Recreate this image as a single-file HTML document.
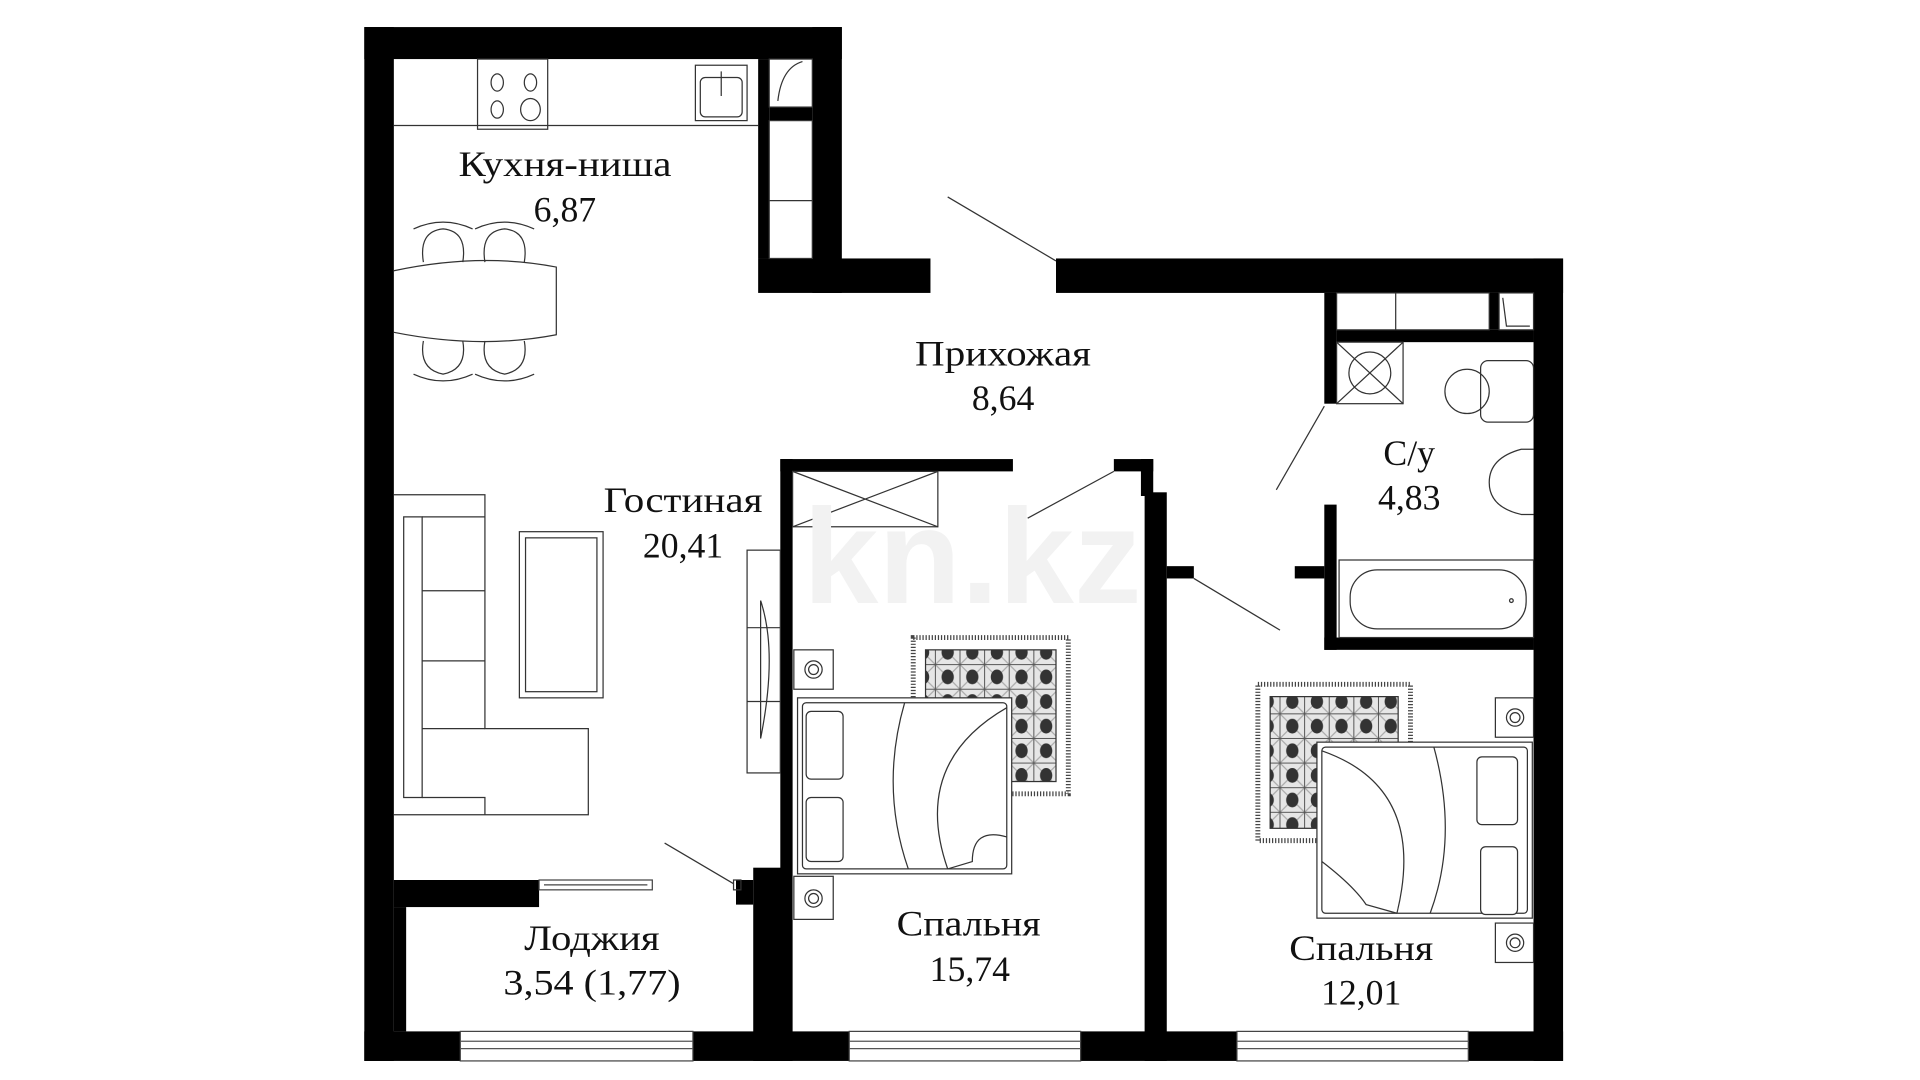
<!DOCTYPE html>
<html><head><meta charset="utf-8"><style>
html,body{margin:0;padding:0;background:#fff;width:1920px;height:1080px;overflow:hidden}
svg{display:block}
text{font-family:"Liberation Serif","DejaVu Serif",serif;fill:#111}
</style></head><body>
<svg width="1920" height="1080" viewBox="0 0 1560 877.5" preserveAspectRatio="none" xmlns="http://www.w3.org/2000/svg">
<defs>
<pattern id="rug" width="20" height="20" patternUnits="userSpaceOnUse">
<rect width="20" height="20" fill="#e6e6e6"/>
<path d="M0 0L20 20M20 0L0 20" stroke="#aaa" stroke-width="1"/>
<ellipse cx="10" cy="10" rx="5" ry="6" fill="#333"/>
<rect width="20" height="20" fill="none" stroke="#555" stroke-width="0.8"/>
</pattern>
</defs>
<rect width="1560" height="877.5" fill="#fff"/>
<g fill="#000">
<!-- outer walls -->
<rect x="296" y="22" width="24" height="840"/>
<rect x="296" y="22" width="388" height="26"/>
<rect x="660" y="22" width="24" height="216"/>
<rect x="616" y="210" width="140" height="28"/>
<rect x="616" y="48" width="9" height="162"/>
<rect x="625" y="87" width="35" height="11"/>
<rect x="858" y="210" width="412" height="28"/>
<rect x="1246" y="210" width="24" height="652"/>
<rect x="296" y="838" width="974" height="24"/>
<!-- loggia -->
<rect x="320" y="715" width="118" height="22"/>
<rect x="320" y="737" width="10" height="101"/>
<rect x="612" y="705" width="30" height="157"/>
<rect x="598" y="715" width="14" height="20"/>
<!-- bedroom1 -->
<rect x="634" y="373" width="10" height="489"/>
<rect x="634" y="373" width="189" height="10"/>
<rect x="905" y="373" width="32" height="10"/>
<rect x="927" y="373" width="10" height="30"/>
<rect x="930" y="400" width="18" height="462"/>
<rect x="948" y="460" width="22" height="10"/>
<!-- bathroom -->
<rect x="1076" y="238" width="10" height="90"/>
<rect x="1076" y="410" width="10" height="118"/>
<rect x="1052" y="460" width="24" height="10"/>
<rect x="1076" y="518" width="170" height="10"/>
<rect x="1086" y="268" width="160" height="10"/>
<rect x="1210" y="238" width="8" height="30"/>
</g>
<!-- windows -->
<g fill="#fff" stroke="#444" stroke-width="1">
<rect x="374" y="838" width="189" height="24"/>
<rect x="690" y="838" width="188" height="24"/>
<rect x="1005" y="838" width="188" height="24"/>
</g>
<g stroke="#555" stroke-width="1">
<path d="M374 846H563M374 852H563M690 846H878M690 852H878M1005 846H1193M1005 852H1193"/>
</g>
<!-- loggia sliding door -->
<rect x="438" y="715" width="92" height="8" fill="#fff" stroke="#444"/>
<line x1="442" y1="719" x2="526" y2="719" stroke="#444"/>
<g fill="none" stroke="#333" stroke-width="1">
<!-- door swings -->
<line x1="770" y1="160" x2="858" y2="212"/>
<line x1="835" y1="421" x2="905" y2="383"/>
<line x1="1037" y1="398" x2="1076" y2="330"/>
<line x1="970" y1="470" x2="1040" y2="512"/>
<line x1="540" y1="685" x2="596" y2="718"/>
<rect x="596" y="715" width="6" height="8"/>
<!-- kitchen -->
<path d="M320 102H616"/>
<rect x="388" y="48" width="57" height="57"/>
<ellipse cx="404" cy="67" rx="5" ry="7"/><ellipse cx="431" cy="67" rx="5" ry="7"/>
<ellipse cx="404" cy="89" rx="5" ry="7"/><ellipse cx="431" cy="89" rx="8" ry="9"/>
<rect x="565" y="53" width="42" height="45"/>
<rect x="569" y="63" width="34" height="32" rx="4"/>
<line x1="586" y1="58" x2="586" y2="78"/>
<rect x="625" y="48" width="35" height="39"/>
<path d="M632 82Q635 55 652 50"/>
<rect x="625" y="98" width="35" height="112"/>
<line x1="625" y1="163" x2="660" y2="163"/>
<!-- dining -->
<path d="M320 220Q390 205 452 217V272Q390 284 320 270"/>
<path d="M344 213Q340 188 360 186Q380 188 376 213M336 186Q360 175 384 186"/>
<path d="M394 213Q390 188 410 186Q430 188 426 213M386 186Q410 175 434 186"/>
<path d="M344 277Q340 300 360 304Q380 300 376 277M336 304Q360 315 384 304"/>
<path d="M394 277Q390 300 410 304Q430 300 426 277M386 304Q410 315 434 304"/>
<!-- sofa -->
<path d="M320 402H394V592H478V662H320"/>
<path d="M328 420H343V648H328Z"/>
<path d="M343 420H394M343 480H394M343 537H394M343 592H394M343 648H394V662"/>
<rect x="422" y="432" width="68" height="135"/>
<rect x="427" y="437" width="58" height="125"/>
<!-- tv -->
<rect x="607" y="447" width="27" height="181"/>
<path d="M618 488Q632 530 618 600Z"/>
<line x1="607" y1="510" x2="634" y2="510"/><line x1="607" y1="570" x2="634" y2="570"/>
<!-- bedroom1 -->
<rect x="644" y="383" width="118" height="45"/>
<path d="M644 383L762 428M762 383L644 428"/>
<rect x="645" y="528" width="32" height="32"/><circle cx="661" cy="544" r="7"/><circle cx="661" cy="544" r="4"/>
<rect x="645" y="712" width="32" height="35"/><circle cx="661" cy="730" r="7"/><circle cx="661" cy="730" r="4"/>
</g>
<rect x="742" y="518" width="126" height="127" fill="#fff" stroke="#444" stroke-dasharray="1 1.5" stroke-width="4"/>
<rect x="752" y="528" width="106" height="107" fill="url(#rug)" stroke="#333"/>
<rect x="1022" y="556" width="124" height="127" fill="#fff" stroke="#444" stroke-dasharray="1 1.5" stroke-width="4"/>
<rect x="1032" y="566" width="104" height="107" fill="url(#rug)" stroke="#333"/>
<g fill="#fff" stroke="#333" stroke-width="1">
<rect x="648" y="567" width="174" height="143"/>
<rect x="652" y="571" width="166" height="135" rx="3"/>
<path d="M735 571Q715 640 738 706M818 575Q740 620 770 706" fill="none"/>
<path d="M818 680Q790 672 790 700L770 706" fill="none"/>
<rect x="655" y="578" width="30" height="55" rx="4"/>
<rect x="655" y="648" width="30" height="52" rx="4"/>
<!-- bedroom2 -->
<rect x="1070" y="603" width="175" height="143"/>
<rect x="1074" y="607" width="167" height="135" rx="3"/>
<path d="M1165 607Q1185 680 1162 742M1074 610Q1160 640 1135 742" fill="none"/>
<path d="M1074 700Q1100 720 1110 735L1135 742" fill="none"/>
<rect x="1200" y="615" width="33" height="55" rx="4"/>
<rect x="1203" y="688" width="30" height="55" rx="4"/>
<rect x="1215" y="567" width="31" height="32"/><circle cx="1231" cy="583" r="7"/><circle cx="1231" cy="583" r="4"/>
<rect x="1215" y="750" width="31" height="32"/><circle cx="1231" cy="766" r="7"/><circle cx="1231" cy="766" r="4"/>
</g>
<g fill="none" stroke="#333" stroke-width="1">
<!-- bath -->
<rect x="1086" y="238" width="124" height="30"/>
<line x1="1134" y1="238" x2="1134" y2="268"/>
<rect x="1218" y="238" width="28" height="30"/>
<path d="M1221 242L1224 265L1243 265"/>
<rect x="1086" y="278" width="54" height="50"/>
<circle cx="1113" cy="303" r="17"/><path d="M1086 278L1140 328M1140 278L1086 328"/>
<rect x="1203" y="293" width="43" height="50" rx="6"/>
<ellipse cx="1192" cy="318" rx="18" ry="18"/>
<path d="M1246 365H1236Q1210 372 1210 392Q1210 412 1236 418H1246"/>
<rect x="1088" y="455" width="158" height="63"/>
<rect x="1097" y="463" width="143" height="48" rx="22"/>
<circle cx="1228" cy="488" r="1.5"/>
</g>
<!-- watermark -->
<text x="790" y="490" font-family="Liberation Sans,sans-serif" font-size="110" font-weight="bold" text-anchor="middle" style="fill:#f2f2f2;font-family:'Liberation Sans',sans-serif">kn.kz</text>
<g font-size="29" text-anchor="middle">
<text x="459" y="143" textLength="173" lengthAdjust="spacingAndGlyphs">Кухня-ниша</text>
<text x="459" y="180">6,87</text>
<text x="815" y="297" textLength="143" lengthAdjust="spacingAndGlyphs">Прихожая</text>
<text x="815" y="333">8,64</text>
<text x="555" y="416" textLength="129" lengthAdjust="spacingAndGlyphs">Гостиная</text>
<text x="555" y="453">20,41</text>
<text x="1145" y="378">С/у</text>
<text x="1145" y="414">4,83</text>
<text x="481" y="772" textLength="110" lengthAdjust="spacingAndGlyphs">Лоджия</text>
<text x="481" y="808" textLength="144" lengthAdjust="spacingAndGlyphs">3,54 (1,77)</text>
<text x="787" y="760" textLength="117" lengthAdjust="spacingAndGlyphs">Спальня</text>
<text x="788" y="797">15,74</text>
<text x="1106" y="780" textLength="117" lengthAdjust="spacingAndGlyphs">Спальня</text>
<text x="1106" y="816">12,01</text>
</g>
</svg>
</body></html>
